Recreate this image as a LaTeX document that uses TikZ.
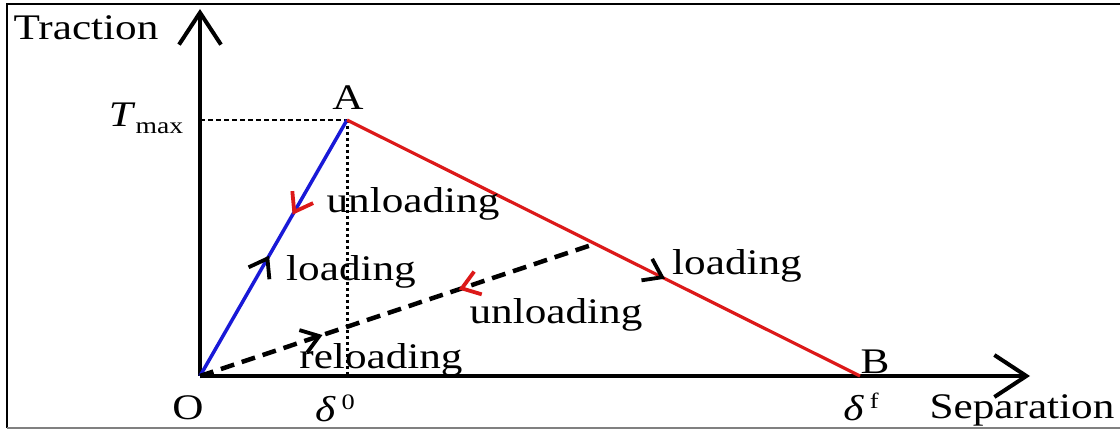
\documentclass[tikz,border=0pt]{standalone}
\usepackage{fontspec}
\setmainfont{Liberation Serif}[FakeStretch=1.2]
\usetikzlibrary{arrows.meta,decorations.markings}
\definecolor{cblue}{RGB}{25,25,215}
\definecolor{cred}{RGB}{220,25,25}
\tikzset{
  chev/.tip={Straight Barb[length=17pt,width=24pt,line width=3.8pt]},
  lbl/.style={inner sep=0pt, font=\fontsize{36}{40}\selectfont},
  axis/.style={line width=4pt, -{Straight Barb[length=32pt,width=42pt,line width=4pt]}},
  frame/.style={line width=2.5pt},
  blueline/.style={cblue, line width=3.5pt},
  redline/.style={cred, line width=3.2pt},
  dashline/.style={black, line width=4.5pt, dash pattern=on 14pt off 8pt},
  dotline/.style={black, line width=3pt, dash pattern=on 3pt off 3pt},
  guide/.style={black, line width=2.5pt, dash pattern=on 5pt off 3pt},
}
\begin{document}
\begin{tikzpicture}[x=1pt,y=-1pt]
\useasboundingbox (0,0) rectangle (1120,430);
% frame
\draw[frame] (6,4) -- (1120,4);
\draw[frame] (7,4) -- (7,428);
\draw[gray, line width=2pt] (7,428) -- (1120,428);
% key points
\coordinate (O) at (200,376);
\coordinate (A) at (347,120);
\coordinate (B) at (860,376);
\coordinate (P) at (595,243.8);
\coordinate (Ytop) at (200,9);
\coordinate (Xend) at (1030,376);
\coordinate (Tm) at (200,120);
\coordinate (D0) at (347,376);
% guides
\draw[guide] (Tm) -- (A);
\draw[dotline] (A) -- (D0);
% axes
\draw[axis] (O) -- (Ytop);
\draw[axis] (O) -- (Xend);
% curves
\draw[blueline, postaction={decorate}, decoration={markings,
   mark=at position 0.47 with {\arrow[black]{chev}},
   mark=at position 0.63 with {\arrowreversed[cred]{chev}}}] (O) -- (A);
\draw[redline, postaction={decorate}, decoration={markings,
   mark=at position 0.62 with {\arrow[black]{chev}}}] (A) -- (B);
\draw[dashline, postaction={decorate}, decoration={markings,
   mark=at position 0.31 with {\arrow[black]{chev}},
   mark=at position 0.655 with {\arrowreversed[cred]{chev}}}] (O) -- (P);
% labels
\node[lbl] (traction) at (86,28) {Traction};
\node[lbl] (separation) at (1022,410) {Separation};
\node[lbl] (lA) at (348,98) {A};
\node[lbl] (lB) at (875,362) {B};
\node[lbl] (lO) at (188,408) {O};
\node[lbl] (tmax) at (146,118) {\textit{T}\raisebox{-7pt}{\fontsize{23}{23}\selectfont max}};
\node[lbl] (d0) at (335,408) {\textit{δ}\,\raisebox{12pt}{\fontsize{22}{22}\selectfont 0}};
\node[lbl] (df) at (861,407) {\textit{δ}\,\raisebox{12pt}{\fontsize{22}{22}\selectfont f}};
\node[lbl] (unl1) at (413,204) {unloading};
\node[lbl] (lod1) at (351,272) {loading};
\node[lbl] (lod2) at (737,266) {loading};
\node[lbl] (unl2) at (556,315) {unloading};
\node[lbl] (rel) at (381,360) {reloading};
\end{tikzpicture}
\end{document}
